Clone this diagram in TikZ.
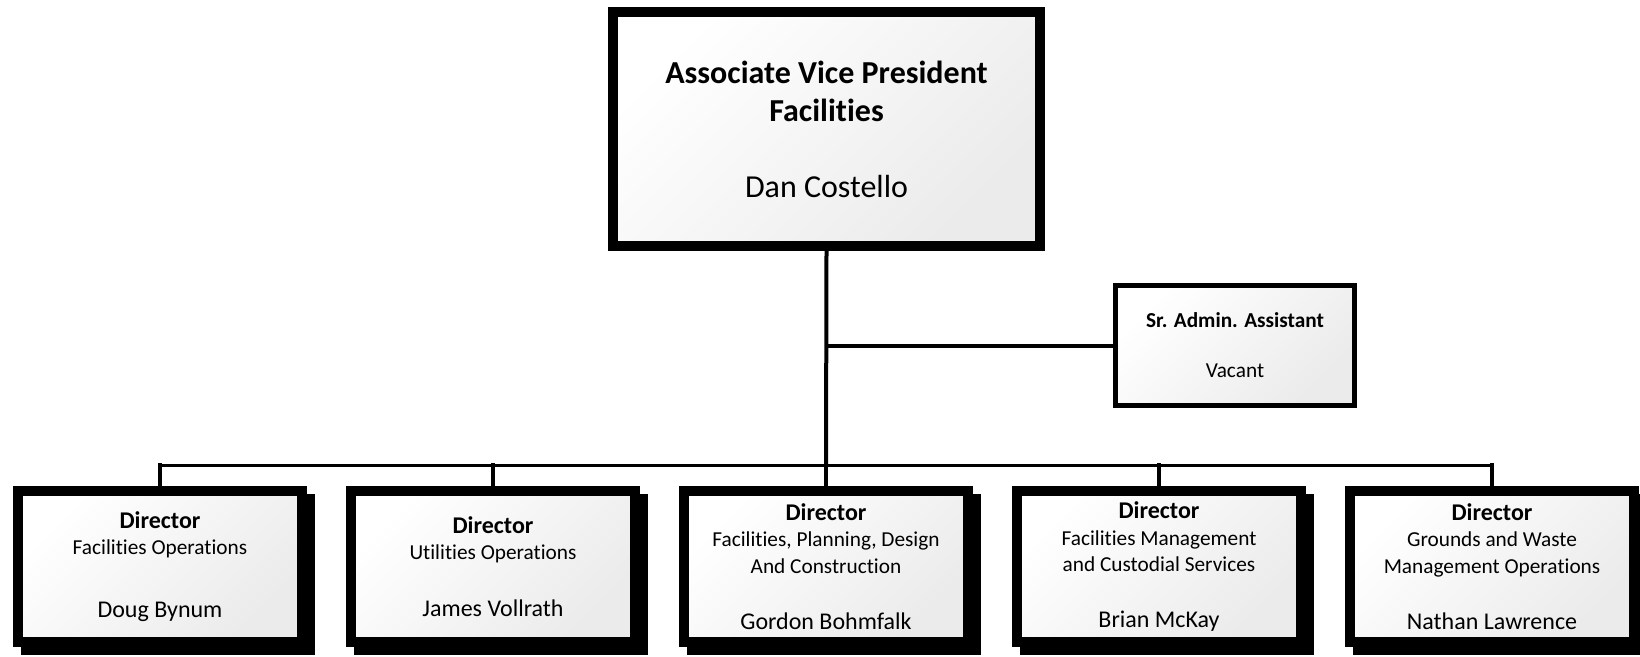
\documentclass[tikz,border=0pt]{standalone}
\usepackage{fontspec}
\setmainfont{Carlito}[Ligatures=NoCommon]
\usetikzlibrary{shadows}

\newcommand{\bigline}[1]{{\fontsize{24}{26}\selectfont #1}}

\tikzset{
  avpbox/.style={draw, line width=10pt, top color=white, bottom color=black!8, shading angle=45,
    minimum width=427pt, minimum height=234pt, align=center, font=\fontsize{32}{38}\selectfont},
  adminbox/.style={draw, line width=5pt, top color=white, bottom color=black!8, shading angle=45,
    minimum width=239pt, minimum height=120pt, align=center, font=\fontsize{21.3}{25}\selectfont},
  dirbox/.style={draw, line width=10pt, top color=white, bottom color=black!8, shading angle=45,
    minimum width=284pt, minimum height=151pt, align=center, font=\fontsize{21.3}{26.5}\selectfont,
    copy shadow={shadow xshift=8pt, shadow yshift=-8pt, fill=black, draw=black, opacity=1}},
  trunk/.style={line width=4pt, line cap=rect},
  busline/.style={line width=3pt}
}

\begin{document}
\begin{tikzpicture}[x=1pt,y=-1pt]
  \useasboundingbox (0,0) rectangle (1640,656);

  \node[avpbox] (avp) at (826.5,129) {\textbf{Associate Vice President}\\\textbf{Facilities}\\[38pt]Dan Costello};
  \node[adminbox] (admin) at (1235,345.5) {\textbf{Sr. Admin. Assistant}\\[25pt]Vacant};

  % directors
  \node[dirbox] (d1) at (160,566.5) {\bigline{\textbf{Director}}\\Facilities Operations\\[36pt]\bigline{Doug Bynum}};
  \node[dirbox] (d2) at (493,566.5) {\bigline{\textbf{Director}}\\Utilities Operations\\[30pt]\bigline{James Vollrath}};
  \node[dirbox] (d3) at (826,566.5) {\bigline{\textbf{Director}}\\Facilities, Planning, Design\\And Construction\\[30pt]\bigline{Gordon Bohmfalk}};
  \node[dirbox] (d4) at (1159,566.5) {\bigline{\textbf{Director}}\\Facilities Management\\and Custodial Services\\[29pt]\bigline{Brian McKay}};
  \node[dirbox] (d5) at (1492,566.5) {\bigline{\textbf{Director}}\\Grounds and Waste\\Management Operations\\[30pt]\bigline{Nathan Lawrence}};

  \coordinate (bus) at (826,465);
  \draw[trunk] (avp.south) -- (bus);
  \draw[trunk] (avp.south |- admin.west) -- (admin.west);
  \draw[busline] (d1.north |- bus) -- (d5.north |- bus);
  \foreach \n in {d1,d2,d3,d4,d5}
    \draw[trunk] (\n.north |- bus) -- (\n.north);
\end{tikzpicture}
\end{document}
